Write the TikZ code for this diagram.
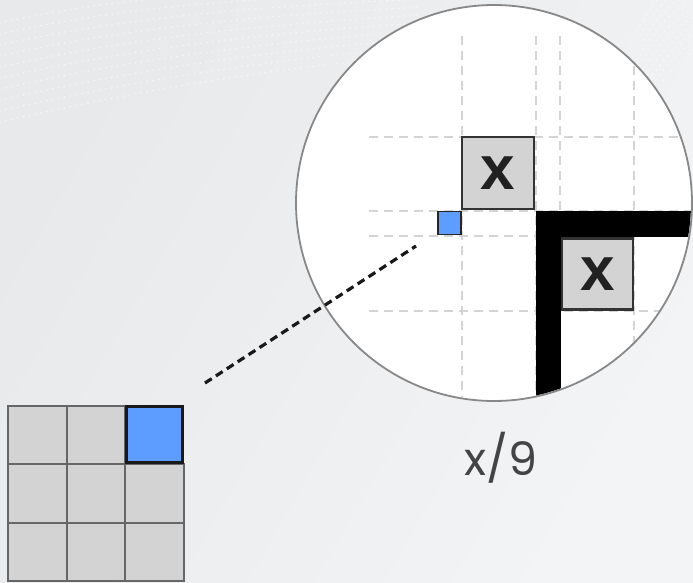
\documentclass[tikz,border=0pt]{standalone}
\usepackage{fontspec}
\setmainfont{Poppins}
\newfontfamily\boldx{Liberation Sans}
\definecolor{bgA}{HTML}{E8E9EA}
\definecolor{bgB}{HTML}{F3F4F5}
\definecolor{cellgrey}{HTML}{D3D3D3}
\definecolor{cellline}{HTML}{666666}
\definecolor{blueA}{HTML}{5C9DFF}
\definecolor{gridgrey}{HTML}{D4D4D4}
\definecolor{rimgrey}{HTML}{888888}
\definecolor{textgrey}{HTML}{444444}
\tikzset{
  cell/.style={draw=cellline, fill=cellgrey, line width=2pt, minimum size=58.5pt, inner sep=0pt, outer sep=0pt},
  bluecell/.style={draw=black!90, fill=blueA, line width=3pt, minimum size=56pt, inner sep=0pt, outer sep=0pt},
  xbox/.style={draw=black!80, fill=cellgrey, line width=2.8pt, minimum size=72pt, inner sep=0pt, font=\boldx\bfseries\fontsize{62}{62}\selectfont, text=black!87},
  gridline/.style={draw=gridgrey, line width=2.6pt, dash pattern=on 9pt off 6pt},
  connector/.style={draw=black!90, line width=3.2pt, dash pattern=on 8pt off 5pt},
  wave/.style={draw=white, opacity=0.6, line width=1.8pt, line cap=round, dash pattern=on 0pt off 6pt}
}
\begin{document}
\begin{tikzpicture}[x=1pt, y=-1pt]
  % background
  \shade[left color=bgA, right color=bgB, shading angle=60] (0,0) rectangle (693,582);
  \useasboundingbox (0,0) rectangle (693,582);
  % faint dotted waves
  \foreach \i in {0,...,9} {
    \draw[wave] (0,{122-11*\i}) .. controls (120,{95-11*\i}) and (250,{70-9*\i}) .. (420,{55-8*\i});
    \draw[wave] (640,{115-10*\i}) .. controls (660,{80-10*\i}) and (680,{60-9*\i}) .. (693,{50-8*\i});
  }
  % magnifier lens
  \node[circle, fill=white, minimum size=396pt, inner sep=0pt] (lens) at (494,203) {};
  \begin{scope}
    \clip (494,203) circle (197pt);
    \foreach \yy in {137,211,236,311} \draw[gridline] (369,\yy) -- (700,\yy);
    \foreach \xx in {462,536,560,634} \draw[gridline] (\xx,36) -- (\xx,410);
    \fill[black] (536,211) rectangle (700,236.5);
    \fill[black] (536,211) rectangle (561,410);
  \end{scope}
  \node[xbox] (xa) at (498,173) {x};
  \node[xbox, minimum size=71pt] (xb) at (597.5,274) {x};
  \node[draw=black!85, fill=blueA, line width=1.5pt, minimum size=23pt, inner sep=0pt] (bluesmall) at (449.5,223) {};
  \draw[rimgrey, line width=1.8pt] (494,203) circle (198pt);
  % small 3x3 grid
  \node[cell] (g11) at (37.25,435) {};
  \node[cell] (g12) at (95.75,435) {};
  \node[cell] (g21) at (37.25,493.5) {};
  \node[cell] (g22) at (95.75,493.5) {};
  \node[cell] (g23) at (154.25,493.5) {};
  \node[cell] (g31) at (37.25,552) {};
  \node[cell] (g32) at (95.75,552) {};
  \node[cell] (g33) at (154.25,552) {};
  \node[bluecell] (g13) at (154.25,434.5) {};
  % dashed connector
  \coordinate (cA) at (205,383);
  \coordinate (cB) at (416,246);
  \draw[connector] (cA) -- (cB);
  % label
  \node[anchor=base, text=textgrey, font=\fontsize{46}{46}\selectfont, inner sep=0pt] (lbl) at (501,475) {x/9};
\end{tikzpicture}
\end{document}
